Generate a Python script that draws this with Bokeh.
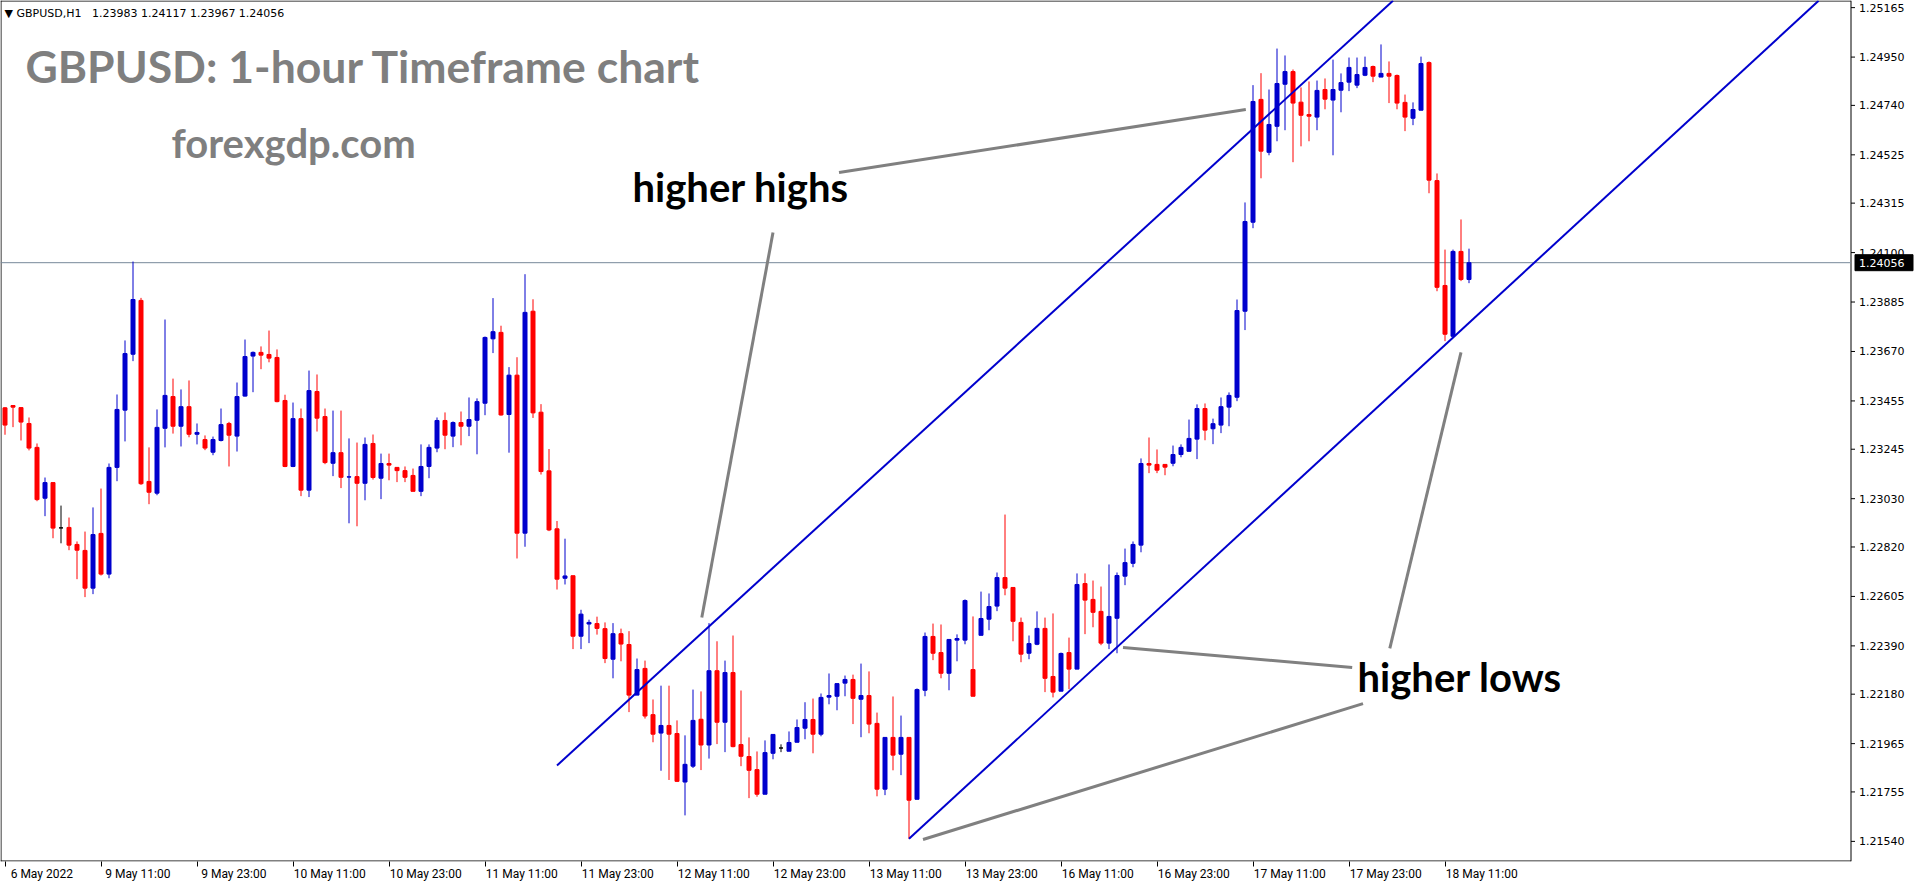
from bokeh.plotting import figure
from bokeh.models import Range1d, FixedTicker, Label, LinearAxis
from bokeh.embed import file_html
from bokeh.resources import INLINE
from bokeh.core.properties import value

# ---------------- data (GBPUSD H1) ----------------
opens = [1.23425, 1.23435, 1.23426, 1.23357, 1.23253, 1.23032, 1.23100, 1.22903, 1.22905, 1.22831,
         1.22805, 1.22641, 1.22879, 1.22702, 1.23166, 1.23415, 1.23658, 1.23892, 1.23105, 1.23054,
         1.23336, 1.23474, 1.23345, 1.23430, 1.23310, 1.23287, 1.23232, 1.23283, 1.23357, 1.23302,
         1.23476, 1.23650, 1.23666, 1.23657, 1.23644, 1.23457, 1.23170, 1.23378, 1.23067, 1.23496,
         1.23387, 1.23184, 1.23230, 1.23124, 1.23126, 1.23097, 1.23270, 1.23119, 1.23183, 1.23166,
         1.23152, 1.23131, 1.23062, 1.23170, 1.23250, 1.23370, 1.23302, 1.23361, 1.23345, 1.23371,
         1.23445, 1.23725, 1.23753, 1.23396, 1.23567, 1.22880, 1.23845, 1.23406, 1.23151, 1.22899,
         1.22684, 1.22695, 1.22432, 1.22485, 1.22487, 1.22465, 1.22332, 1.22443, 1.22396, 1.22176,
         1.22292, 1.22091, 1.22011, 1.22044, 1.22009, 1.21798, 1.21867, 1.22071, 1.21959, 1.22282,
         1.22058, 1.22274, 1.21961, 1.21909, 1.21852, 1.21745, 1.21923, 1.21946, 1.21932, 1.21971,
         1.22032, 1.22070, 1.22006, 1.22167, 1.22171, 1.22228, 1.22244, 1.22158, 1.22174, 1.22053,
         1.21767, 1.21992, 1.21919, 1.21992, 1.21723, 1.22197, 1.22431, 1.22361, 1.22271, 1.22415,
         1.22415, 1.22287, 1.22436, 1.22506, 1.22563, 1.22687, 1.22644, 1.22492, 1.22358, 1.22397,
         1.22466, 1.22257, 1.22193, 1.22361, 1.22289, 1.22661, 1.22592, 1.22540, 1.22402, 1.22510,
         1.22693, 1.22749, 1.22828, 1.23183, 1.23179, 1.23179, 1.23184, 1.23222, 1.23236, 1.23289,
         1.23422, 1.23334, 1.23350, 1.23428, 1.23471, 1.23845, 1.24232, 1.24766, 1.24536, 1.24649,
         1.24832, 1.24887, 1.24754, 1.24700, 1.24689, 1.24809, 1.24763, 1.24806, 1.24841, 1.24828,
         1.24871, 1.24909, 1.24863, 1.24879, 1.24870, 1.24753, 1.24684, 1.24719, 1.24926, 1.24413,
         1.23957, 1.23736, 1.24105, 1.23983]
highs = [1.23428, 1.23435, 1.23426, 1.23383, 1.23270, 1.23122, 1.23100, 1.23000, 1.22948, 1.22844,
         1.22887, 1.22992, 1.23074, 1.23183, 1.23483, 1.23718, 1.24061, 1.23903, 1.23253, 1.23418,
         1.23809, 1.23552, 1.23505, 1.23544, 1.23357, 1.23305, 1.23300, 1.23422, 1.23364, 1.23535,
         1.23722, 1.23670, 1.23692, 1.23761, 1.23679, 1.23482, 1.23448, 1.23422, 1.23587, 1.23570,
         1.23422, 1.23413, 1.23413, 1.23292, 1.23274, 1.23296, 1.23309, 1.23226, 1.23226, 1.23166,
         1.23170, 1.23161, 1.23266, 1.23266, 1.23383, 1.23405, 1.23366, 1.23409, 1.23470, 1.23466,
         1.23735, 1.23902, 1.23782, 1.23602, 1.23645, 1.24006, 1.23897, 1.23441, 1.23246, 1.22933,
         1.22856, 1.22695, 1.22547, 1.22504, 1.22517, 1.22492, 1.22489, 1.22465, 1.22454, 1.22335,
         1.22326, 1.22157, 1.22217, 1.22217, 1.22066, 1.22001, 1.22200, 1.22192, 1.22489, 1.22410,
         1.22326, 1.22435, 1.22196, 1.21992, 1.21931, 1.21979, 1.22005, 1.21962, 1.22018, 1.22070,
         1.22145, 1.22161, 1.22183, 1.22270, 1.22226, 1.22261, 1.22265, 1.22313, 1.22279, 1.22100,
         1.21992, 1.22170, 1.22087, 1.21992, 1.22205, 1.22448, 1.22487, 1.22483, 1.22418, 1.22440,
         1.22592, 1.22518, 1.22626, 1.22618, 1.22709, 1.22961, 1.22644, 1.22513, 1.22435, 1.22540,
         1.22513, 1.22531, 1.22361, 1.22426, 1.22705, 1.22705, 1.22674, 1.22648, 1.22744, 1.22709,
         1.22813, 1.22844, 1.23205, 1.23296, 1.23244, 1.23179, 1.23261, 1.23266, 1.23374, 1.23440,
         1.23444, 1.23378, 1.23470, 1.23492, 1.23896, 1.24318, 1.24828, 1.24880, 1.24809, 1.24987,
         1.24957, 1.24896, 1.24818, 1.24844, 1.24848, 1.24857, 1.24939, 1.24879, 1.24948, 1.24948,
         1.24952, 1.24913, 1.25005, 1.24931, 1.24874, 1.24787, 1.24753, 1.24952, 1.24931, 1.24444,
         1.24113, 1.24113, 1.24244, 1.24117]
lows = [1.23308, 1.23341, 1.23283, 1.23240, 1.23019, 1.22954, 1.22858, 1.22836, 1.22806, 1.22680,
        1.22602, 1.22615, 1.22696, 1.22684, 1.23106, 1.23279, 1.23628, 1.23090, 1.23006, 1.23045,
        1.23253, 1.23313, 1.23257, 1.23297, 1.23266, 1.23241, 1.23219, 1.23279, 1.23170, 1.23235,
        1.23474, 1.23493, 1.23593, 1.23623, 1.23449, 1.23167, 1.23167, 1.23041, 1.23037, 1.23322,
        1.23180, 1.23128, 1.23076, 1.22923, 1.22910, 1.23023, 1.23113, 1.23028, 1.23110, 1.23102,
        1.23102, 1.23062, 1.23041, 1.23119, 1.23232, 1.23245, 1.23254, 1.23262, 1.23302, 1.23223,
        1.23393, 1.23663, 1.23391, 1.23230, 1.22770, 1.22821, 1.23381, 1.23135, 1.22889, 1.22635,
        1.22657, 1.22376, 1.22376, 1.22402, 1.22439, 1.22315, 1.22249, 1.22323, 1.22102, 1.22176,
        1.22074, 1.21971, 1.21847, 1.21807, 1.21798, 1.21653, 1.21859, 1.21850, 1.21900, 1.21963,
        1.21928, 1.21949, 1.21867, 1.21728, 1.21734, 1.21745, 1.21897, 1.21928, 1.21932, 1.21971,
        1.21984, 1.21923, 1.21997, 1.22136, 1.22110, 1.22171, 1.22050, 1.21993, 1.22010, 1.21736,
        1.21741, 1.21849, 1.21828, 1.21551, 1.21723, 1.22171, 1.22328, 1.22249, 1.22197, 1.22323,
        1.22397, 1.22171, 1.22436, 1.22458, 1.22541, 1.22610, 1.22410, 1.22319, 1.22332, 1.22393,
        1.22189, 1.22166, 1.22193, 1.22202, 1.22289, 1.22441, 1.22471, 1.22393, 1.22376, 1.22358,
        1.22654, 1.22732, 1.22797, 1.23141, 1.23141, 1.23132, 1.23171, 1.23210, 1.23236, 1.23202,
        1.23284, 1.23267, 1.23315, 1.23345, 1.23454, 1.23763, 1.24206, 1.24423, 1.24523, 1.24584,
        1.24632, 1.24493, 1.24562, 1.24584, 1.24632, 1.24723, 1.24523, 1.24710, 1.24802, 1.24815,
        1.24867, 1.24841, 1.24863, 1.24750, 1.24723, 1.24628, 1.24654, 1.24719, 1.24358, 1.23932,
        1.23715, 1.23736, 1.23976, 1.23967]
closes = [1.23350, 1.23428, 1.23363, 1.23250, 1.23026, 1.23100, 1.22902, 1.22903, 1.22828, 1.22806,
          1.22641, 1.22874, 1.22702, 1.23166, 1.23418, 1.23661, 1.23896, 1.23095, 1.23058, 1.23340,
          1.23479, 1.23345, 1.23430, 1.23310, 1.23318, 1.23250, 1.23287, 1.23352, 1.23306, 1.23474,
          1.23648, 1.23666, 1.23654, 1.23641, 1.23452, 1.23170, 1.23378, 1.23067, 1.23500, 1.23380,
          1.23187, 1.23230, 1.23123, 1.23125, 1.23097, 1.23266, 1.23122, 1.23183, 1.23176, 1.23152,
          1.23123, 1.23062, 1.23170, 1.23253, 1.23370, 1.23306, 1.23361, 1.23345, 1.23374, 1.23452,
          1.23731, 1.23756, 1.23394, 1.23567, 1.22880, 1.23840, 1.23403, 1.23148, 1.22894, 1.22680,
          1.22694, 1.22432, 1.22528, 1.22492, 1.22466, 1.22335, 1.22443, 1.22398, 1.22176, 1.22287,
          1.22085, 1.22006, 1.22044, 1.22006, 1.21801, 1.21875, 1.22066, 1.21959, 1.22282, 1.22058,
          1.22274, 1.21952, 1.21910, 1.21849, 1.21745, 1.21926, 1.22005, 1.21946, 1.21970, 1.22035,
          1.22070, 1.22006, 1.22166, 1.22174, 1.22226, 1.22244, 1.22162, 1.22174, 1.22050, 1.21767,
          1.21992, 1.21915, 1.21992, 1.21719, 1.22200, 1.22431, 1.22358, 1.22271, 1.22418, 1.22422,
          1.22587, 1.22171, 1.22509, 1.22561, 1.22687, 1.22641, 1.22497, 1.22354, 1.22400, 1.22466,
          1.22249, 1.22189, 1.22357, 1.22289, 1.22657, 1.22589, 1.22536, 1.22402, 1.22518, 1.22696,
          1.22752, 1.22831, 1.23183, 1.23176, 1.23154, 1.23167, 1.23222, 1.23253, 1.23292, 1.23422,
          1.23328, 1.23356, 1.23430, 1.23479, 1.23848, 1.24235, 1.24757, 1.24541, 1.24657, 1.24835,
          1.24887, 1.24750, 1.24697, 1.24693, 1.24805, 1.24767, 1.24809, 1.24839, 1.24905, 1.24874,
          1.24905, 1.24867, 1.24879, 1.24867, 1.24750, 1.24689, 1.24722, 1.24922, 1.24415, 1.23949,
          1.23745, 1.24105, 1.23983, 1.24056]

time_labels = ["6 May 2022", "9 May 11:00", "9 May 23:00", "10 May 11:00", "10 May 23:00",
               "11 May 11:00", "11 May 23:00", "12 May 11:00", "12 May 23:00", "13 May 11:00",
               "13 May 23:00", "16 May 11:00", "16 May 23:00", "17 May 11:00", "17 May 23:00",
               "18 May 11:00"]
bars_per_label = 12
price_ticks = [1.25165, 1.24950, 1.24740, 1.24525, 1.24315, 1.24100, 1.23885, 1.23670, 1.23455,
               1.23245, 1.23030, 1.22820, 1.22605, 1.22390, 1.22180, 1.21965, 1.21755, 1.21540]
last_price = 1.24056
symbol_header = "\u25bc GBPUSD,H1\u00a0\u00a0 1.23983 1.24117 1.23967 1.24056"

# drawn channel lines (bar index, price)
upper_channel_x = [69.0, 173.5]
upper_channel_y = [1.21870, 1.25195]
lower_channel_x = [113.0, 226.7]
lower_channel_y = [1.21551, 1.25195]
# grey pointer lines from the captions
pointer_x0 = [104.25, 96.0, 168.4, 169.75, 173.1]
pointer_y0 = [1.24448, 1.24187, 1.22296, 1.22139, 1.22379]
pointer_x1 = [155.1, 87.1, 139.75, 114.75, 182.0]
pointer_y1 = [1.24722, 1.22513, 1.22383, 1.21548, 1.23666]

# ---------------- layout constants ----------------
BLUE = "#0000CD"
RED = "#FF0000"
W, H = 1916, 884
PX_PER_BAR = 8.0
PX_PER_UNIT = 23000.0
CHART_W = 1850.5          # right border of the chart window (px)
CHART_H = 861             # bottom of the chart window (px)
x_start = -0.5625
x_end = x_start + W / PX_PER_BAR
y_end = 1.25196
y_start = y_end - CHART_H / PX_PER_UNIT
x_edge = x_start + CHART_W / PX_PER_BAR


def bx(px):
    return x_start + px / PX_PER_BAR


def py(pxv):
    return y_end - pxv / PX_PER_UNIT


p = figure(width=W, height=H, output_backend="svg", toolbar_location=None,
           x_range=Range1d(x_start, x_end), y_range=Range1d(y_start, y_end),
           y_axis_location=None,
           min_border_left=0, min_border_top=0, min_border_right=0, min_border_bottom=H - CHART_H)
p.xgrid.visible = False
p.ygrid.visible = False
p.outline_line_color = None
p.background_fill_color = "white"
p.border_fill_color = "white"

# chart window borders
p.segment(x0=[bx(0.5), x_start, x_edge, x_start], y0=[y_start, py(0.5), y_start, py(CHART_H - 0.5)],
          x1=[bx(0.5), x_edge, x_edge, x_edge], y1=[y_end, py(0.5), y_end, py(CHART_H - 0.5)],
          line_color="black", line_width=1)

# current price line
p.segment(x0=[x_start], y0=[last_price], x1=[x_edge], y1=[last_price], line_color="#778899", line_width=1)

# candles
xs = list(range(len(opens)))
colors = [BLUE if c > o else (RED if c < o else "#000000") for o, c in zip(opens, closes)]
tops = [max(o, c) for o, c in zip(opens, closes)]
bottoms = [min(o, c) for o, c in zip(opens, closes)]
p.segment(x0=xs, y0=lows, x1=xs, y1=highs, line_color=colors, line_width=1)
p.vbar(x=xs, width=0.5, top=tops, bottom=bottoms, fill_color=colors, line_color=colors, line_width=1)

# drawn objects
p.line(upper_channel_x, upper_channel_y, line_color=BLUE, line_width=2)
p.line(lower_channel_x, lower_channel_y, line_color=BLUE, line_width=2)
p.segment(x0=pointer_x0, y0=pointer_y0, x1=pointer_x1, y1=pointer_y1, line_color="#808080", line_width=3)

# price scale on the right (drawn inside the canvas)
p.segment(x0=[x_edge] * len(price_ticks), y0=price_ticks,
          x1=[x_edge + 4 / PX_PER_BAR] * len(price_ticks), y1=price_ticks,
          line_color="black", line_width=1)
p.text(x=[x_edge + 8 / PX_PER_BAR] * len(price_ticks), y=price_ticks,
       text=["%.5f" % t for t in price_ticks], text_align="left", text_baseline="middle",
       text_font=value("DejaVu Sans"), text_font_size="11px", text_color="black")
p.quad(left=[x_edge + 4 / PX_PER_BAR], right=[x_edge + 62 / PX_PER_BAR],
       top=[last_price + 8 / PX_PER_UNIT], bottom=[last_price - 8 / PX_PER_UNIT],
       fill_color="black", line_color="black")
p.text(x=[x_edge + 8 / PX_PER_BAR], y=[last_price], text=["%.5f" % last_price],
       text_align="left", text_baseline="middle",
       text_font=value("DejaVu Sans"), text_font_size="11px", text_color="white")

# time scale: tick marks on the main axis, labels on a shifted axis
ticks_x = [i * bars_per_label for i in range(len(time_labels))]
p.xaxis.ticker = FixedTicker(ticks=ticks_x)
p.xaxis.major_label_overrides = {t: "" for t in ticks_x}
p.xaxis.major_label_text_font_size = "0px"
p.xaxis.major_label_standoff = 0
p.xaxis.major_tick_out = 5
p.xaxis.major_tick_in = 0
p.xaxis.minor_tick_out = 0
p.xaxis.minor_tick_in = 0
p.xaxis.axis_line_color = None
p.xaxis.major_tick_line_color = "black"

label_shift = 4.6
p.extra_x_ranges = {"labels": Range1d(x_start - label_shift, x_end - label_shift)}
lab_axis = LinearAxis(x_range_name="labels", ticker=FixedTicker(ticks=ticks_x),
                      major_label_overrides={t: lab for t, lab in zip(ticks_x, time_labels)},
                      major_tick_out=0, major_tick_in=0, minor_tick_out=0, minor_tick_in=0,
                      axis_line_color=None, major_label_standoff=0,
                      major_label_text_font="Roboto", major_label_text_font_size="12px",
                      major_label_text_color="black")
p.add_layout(lab_axis, "below")

# texts
p.add_layout(Label(x=bx(4), y=py(13), text=symbol_header, text_baseline="middle",
                   text_font="DejaVu Sans", text_font_size="11px", text_color="black"))
p.add_layout(Label(x=bx(25), y=py(65), text="GBPUSD: 1-hour Timeframe chart", text_baseline="middle",
                   text_font="Lato", text_font_style="bold", text_font_size="44.5px", text_color="#7F7F7F"))
p.add_layout(Label(x=bx(171), y=py(142), text="forexgdp.com", text_baseline="middle",
                   text_font="Lato", text_font_style="bold", text_font_size="40px", text_color="#7F7F7F"))
p.add_layout(Label(x=bx(632), y=py(186), text="higher highs", text_baseline="middle",
                   text_font="Lato", text_font_style="bold", text_font_size="40px", text_color="black"))
p.add_layout(Label(x=bx(1357), y=py(676), text="higher lows", text_baseline="middle",
                   text_font="Lato", text_font_style="bold", text_font_size="40px", text_color="black"))

open("out.html", "w").write(file_html(p, INLINE))
